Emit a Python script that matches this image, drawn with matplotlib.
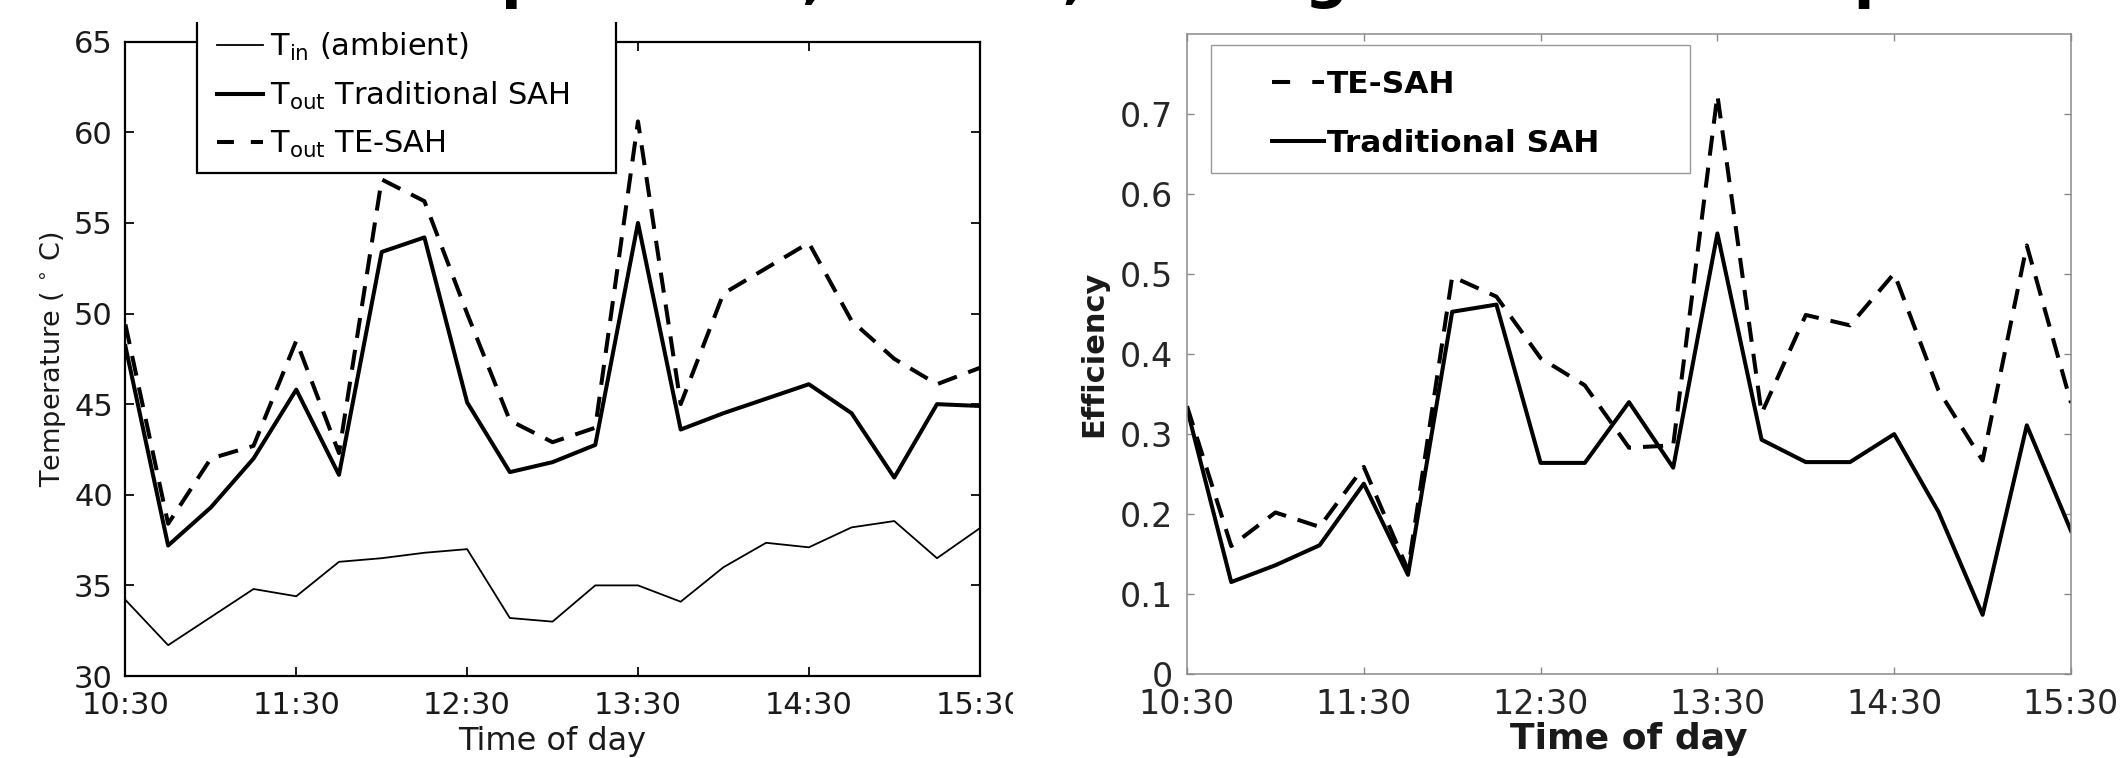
import matplotlib
matplotlib.use('Agg')
import matplotlib.pyplot as plt
from matplotlib.patches import Rectangle
from matplotlib.lines import Line2D

# readings every 15 minutes
times = ['10:30', '10:45', '11:00', '11:15', '11:30', '11:45', '12:00', '12:15', '12:30',
         '12:45', '13:00', '13:15', '13:30', '13:45', '14:00', '14:15', '14:30', '14:45',
         '15:00', '15:15', '15:30']
t_in = [34.2, 31.7, 33.25, 34.8, 34.4, 36.3, 36.5, 36.8, 37.0, 33.2, 33.0, 35.0, 35.0,
        34.1, 36.0, 37.35, 37.1, 38.2, 38.55, 36.5, 38.15]
t_out_trad = [48.2, 37.2, 39.3, 42.0, 45.8, 41.1, 53.4, 54.2, 45.1, 41.25, 41.8, 42.75,
              55.0, 43.6, 44.5, 45.3, 46.1, 44.5, 40.95, 45.0, 44.9]
t_out_te = [49.4, 38.4, 42.0, 42.7, 48.5, 42.3, 57.4, 56.2, 50.0, 44.1, 42.9, 43.7, 60.6,
            45.0, 51.1, 52.5, 53.9, 49.6, 47.5, 46.1, 47.0]
eff_te = [0.335, 0.16, 0.202, 0.184, 0.259, 0.13, 0.497, 0.472, 0.395, 0.361, 0.283,
          0.286, 0.724, 0.326, 0.449, 0.436, 0.501, 0.355, 0.267, 0.536, 0.339]
eff_trad = [0.332, 0.115, 0.136, 0.161, 0.238, 0.124, 0.453, 0.462, 0.264, 0.264, 0.340,
            0.258, 0.551, 0.293, 0.265, 0.265, 0.300, 0.203, 0.074, 0.311, 0.179]

hour_ticks = ['10:30', '11:30', '12:30', '13:30', '14:30', '15:30']
temp_ticks = [30, 35, 40, 45, 50, 55, 60, 65]
eff_ticks = [0, 0.1, 0.2, 0.3, 0.4, 0.5, 0.6, 0.7]
eff_tick_labels = ['0', '0.1', '0.2', '0.3', '0.4', '0.5', '0.6', '0.7']


def to_hours(s):
    h, m = s.split(':')
    return int(h) + int(m) / 60


x = [to_hours(s) for s in times]
xt = [to_hours(s) for s in hour_ticks]

W, H = 2126, 758
fig = plt.figure(figsize=(W / 100, H / 100), dpi=100)

# ---- left: temperatures
ax1 = fig.add_axes([125.4 / W, 1 - 676 / H, 854.3 / W, 634.3 / H])
l_in, = ax1.plot(x, t_in, color='black', lw=1.3)
l_tr, = ax1.plot(x, t_out_trad, color='black', lw=2.9)
l_te, = ax1.plot(x, t_out_te, color='black', lw=2.9, ls='--', dashes=(5, 3))
ax1.set_xlim(10.5, 15.5)
ax1.set_ylim(30, 65)
ax1.set_xticks(xt)
ax1.set_xticklabels(hour_ticks)
ax1.set_yticks(temp_ticks)
ax1.tick_params(direction='in', top=True, right=True, length=6.5, width=1.4,
                labelsize=22, colors='#1a1a1a')
ax1.tick_params(axis='y', pad=9)
ax1.tick_params(axis='x', pad=11)
for s in ax1.spines.values():
    s.set_linewidth(1.6)
ax1.set_xlabel('Time of day', fontsize=23, color='#1a1a1a', labelpad=4)
ax1.set_ylabel(r'Temperature ( $^{\circ}$ C)', fontsize=19.5, color='#1a1a1a', labelpad=4)

# legend samples drawn like the original (short dash pattern)
h_te1 = Line2D([], [], color='black', lw=2.9, ls='--', dashes=(4.2, 4.2))
ax1.add_patch(Rectangle((0.0838, 0.793), 0.574 - 0.0838, 0.4, transform=ax1.transAxes,
                        fc='white', ec='black', lw=1.6, zorder=4, clip_on=False))
leg1 = ax1.legend([l_in, l_tr, h_te1],
                  [r'$\mathregular{T_{in}}$ (ambient)',
                   r'$\mathregular{T_{out}}$ Traditional SAH',
                   r'$\mathregular{T_{out}}$ TE-SAH'],
                  loc='upper left', bbox_to_anchor=(0.107, 1.017), frameon=False,
                  fontsize=22, borderpad=0, borderaxespad=0, handlelength=1.5,
                  handletextpad=0.25, labelspacing=0.55)
leg1.set_zorder(5)

# ---- right: efficiency
ax2 = fig.add_axes([1187 / W, 1 - 674 / H, 884 / W, 639.7 / H])
e_te, = ax2.plot(x, eff_te, color='black', lw=2.9, ls='--', dashes=(5, 3))
e_tr, = ax2.plot(x, eff_trad, color='black', lw=2.9)
ax2.set_xlim(10.5, 15.5)
ax2.set_ylim(0, 0.8)
ax2.set_xticks(xt)
ax2.set_xticklabels(hour_ticks)
ax2.set_yticks(eff_ticks)
ax2.set_yticklabels(eff_tick_labels)
ax2.tick_params(direction='in', top=True, right=True, length=5, width=1.0,
                labelsize=24, color='#8a8a8a', labelcolor='#262626')
ax2.tick_params(axis='y', pad=10)
ax2.tick_params(axis='x', pad=10)
for s in ax2.spines.values():
    s.set_linewidth(1.1)
    s.set_color('#8a8a8a')
ax2.set_xlabel('Time of day', fontsize=26, fontweight='bold', color='#1a1a1a', labelpad=1)
ax2.set_ylabel('Efficiency', fontsize=22, fontweight='bold', color='#1a1a1a', labelpad=8)

h_te2 = Line2D([], [], color='black', lw=2.9, ls='--', dashes=(4.5, 5.5))
ax2.add_patch(Rectangle((0.0271, 0.7832), 0.542, 0.2001, transform=ax2.transAxes,
                        fc='white', ec='#999999', lw=1.0, zorder=4, clip_on=False))
leg2 = ax2.legend([h_te2, e_tr], ['TE-SAH', 'Traditional SAH'], loc='upper left',
                  bbox_to_anchor=(0.0962, 0.944), frameon=False,
                  prop={'size': 22.5, 'weight': 'bold'}, borderpad=0, borderaxespad=0,
                  handlelength=1.65, handletextpad=0.12, labelspacing=0.95)
leg2.set_zorder(5)

# cropped title strip at top and cut-off edge of the left panel
fig.add_artist(Rectangle((0, 1 - 22 / H), 1, 22 / H, transform=fig.transFigure,
                         fc='white', ec='none', zorder=10))
fig.add_artist(Rectangle((1013 / W, 0), 49 / W, 728 / H, transform=fig.transFigure,
                         fc='white', ec='none', zorder=10))
fig.text(362 / W, 1 + 4 / H, 'Temperature, Outlet, Average Outdoor Temperature',
         fontsize=44, fontweight='bold', va='baseline', ha='left', zorder=11)

fig.savefig('out.png', dpi=100)
